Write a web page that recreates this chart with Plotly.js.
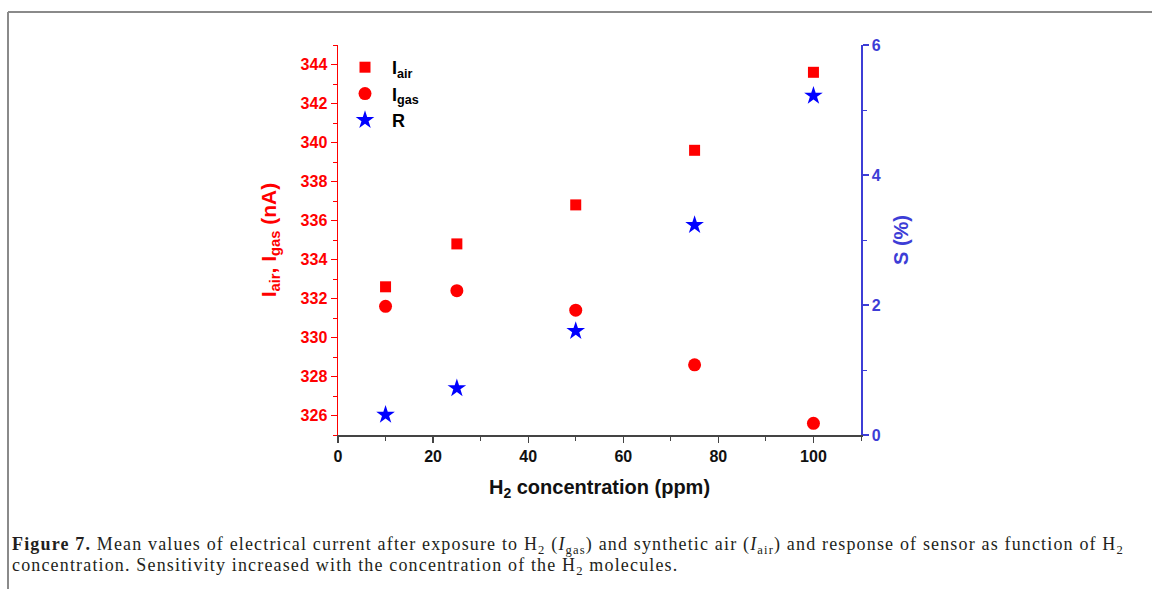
<!DOCTYPE html>
<html>
<head>
<meta charset="utf-8">
<script src="https://cdn.plot.ly/plotly-3.0.1.min.js"></script>
<style>
  html, body { margin: 0; padding: 0; background: #fff; }
  #chart { width: 1152px; height: 589px; }
</style>
</head>
<body>
<div id="chart"></div>
<script>
// H2 concentration (ppm)
const concentration = [10, 25, 50, 75, 100];
// Mean current in synthetic air and under H2 (nA)
const iAir = [332.6, 334.8, 336.8, 339.6, 343.6];
const iGas = [331.6, 332.4, 331.4, 328.6, 325.6];
// Sensor response S (%)
const response = [0.31, 0.72, 1.6, 3.23, 5.22];

const RED = '#ff0000';
const BLUE = '#0000ff';
const AXBLUE = '#3d3dd6';
const SANS = 'Liberation Sans, Arial, sans-serif';
const SERIF = 'Liberation Serif, Times New Roman, serif';

// plot-area pixel box used to place the frame and caption in paper units
const W = 1152, H = 589;
const M = { l: 338, r: 291, t: 45, b: 154 };
const pw = W - M.l - M.r, ph = H - M.t - M.b;
const px = v => (v - M.l) / pw;
const py = v => (H - M.b - v) / ph;

const traces = [
  {
    x: concentration, y: iAir, type: 'scatter', mode: 'markers',
    name: 'I<sub>air</sub>', legendgroup: 'a',
    marker: { symbol: 'square', color: RED, size: 11 },
    yaxis: 'y'
  },
  {
    x: concentration, y: iGas, type: 'scatter', mode: 'markers',
    name: 'I<sub>gas</sub>', legendgroup: 'b',
    marker: { symbol: 'circle', color: RED, size: 13 },
    yaxis: 'y'
  },
  {
    x: concentration, y: response, type: 'scatter', mode: 'markers',
    name: 'R', legendgroup: 'c',
    marker: { symbol: 'star', color: BLUE, size: 14 },
    yaxis: 'y2'
  }
];

const caption1 = '<b>Figure 7.</b> Mean values of electrical current after exposure to H<sub>2</sub> (<i>I</i><sub>gas</sub>) and synthetic air (<i>I</i><sub>air</sub>) and response of sensor as function of H<sub>2</sub>';
const caption2 = 'concentration. Sensitivity increased with the concentration of the H<sub>2</sub> molecules.';

const layout = {
  width: W, height: H,
  margin: M,
  paper_bgcolor: '#ffffff',
  plot_bgcolor: '#ffffff',
  showlegend: true,
  legend: {
    x: px(338), y: py(49), xanchor: 'left', yanchor: 'top',
    bgcolor: 'rgba(0,0,0,0)',
    font: { family: SANS, size: 18, color: '#000', weight: 'bold' },
    tracegroupgap: 0,
    itemwidth: 44
  },
  xaxis: {
    range: [0, 110],
    tick0: 0, dtick: 20,
    showgrid: false, zeroline: false,
    showline: true, linecolor: '#444', linewidth: 1.5,
    ticks: 'outside', ticklen: 6, tickwidth: 1.2, tickcolor: '#444',
    minor: { dtick: 10, ticks: 'outside', ticklen: 4, tickcolor: '#444', tickwidth: 1 },
    tickfont: { family: SANS, size: 16, color: '#111', weight: 'bold' },
    title: {
      text: 'H<sub>2</sub> concentration (ppm)',
      font: { family: SANS, size: 20, color: '#111', weight: 'bold' },
      standoff: 16
    }
  },
  yaxis: {
    range: [325, 345],
    tick0: 326, dtick: 2,
    showgrid: false, zeroline: false,
    showline: true, linecolor: RED, linewidth: 1.5,
    ticks: 'outside', ticklen: 6, tickwidth: 1.2, tickcolor: RED,
    minor: { dtick: 1, ticks: 'outside', ticklen: 4, tickcolor: RED, tickwidth: 1 },
    tickfont: { family: SANS, size: 16, color: RED, weight: 'bold' },
    title: {
      text: 'I<sub>air</sub>, I<sub>gas</sub> (nA)',
      font: { family: SANS, size: 21, color: RED, weight: 'bold' },
      standoff: 18
    }
  },
  yaxis2: {
    range: [0, 6],
    tick0: 0, dtick: 2,
    overlaying: 'y', side: 'right', anchor: 'x',
    showgrid: false, zeroline: false,
    showline: true, linecolor: AXBLUE, linewidth: 1.5,
    ticks: 'outside', ticklen: 6, tickwidth: 1.2, tickcolor: AXBLUE,
    minor: { dtick: 1, ticks: 'outside', ticklen: 4, tickcolor: AXBLUE, tickwidth: 1 },
    tickfont: { family: SANS, size: 16, color: AXBLUE, weight: 'bold' },
    title: {
      text: 'S (%)',
      font: { family: SANS, size: 20, color: AXBLUE, weight: 'bold' },
      standoff: 14
    }
  },
  shapes: [
    // page frame: top rule and left rule
    { type: 'line', xref: 'paper', yref: 'paper',
      x0: px(8), x1: px(W + 2), y0: py(12), y1: py(12),
      line: { color: '#8a8a8a', width: 2 } },
    { type: 'line', xref: 'paper', yref: 'paper',
      x0: px(8), x1: px(8), y0: py(12), y1: py(H + 2),
      line: { color: '#8a8a8a', width: 2 } }
  ],
  annotations: [
    { xref: 'paper', yref: 'paper', x: px(10), y: py(545),
      xanchor: 'left', yanchor: 'middle', showarrow: false, align: 'left',
      text: caption1,
      font: { family: SERIF, size: 18, color: '#231f20' } },
    { xref: 'paper', yref: 'paper', x: px(10), y: py(566),
      xanchor: 'left', yanchor: 'middle', showarrow: false, align: 'left',
      text: caption2,
      font: { family: SERIF, size: 18, color: '#231f20' } }
  ]
};

// spread the caption lines so the first one runs to the right margin
function spreadCaption(gd) {
  const texts = gd.querySelectorAll('.annotation-text');
  if (!texts.length) return;
  const first = texts[0];
  const width = first.getBBox().width;
  const chars = first.textContent.length;
  const target = 1132 - 11;
  const ls = Math.max(0, (target - width) / chars);
  texts.forEach(t => { t.style.letterSpacing = ls.toFixed(2) + 'px'; });
}

Plotly.newPlot('chart', traces, layout, { displayModeBar: false, staticPlot: true })
  .then(gd => spreadCaption(gd));
</script>
</body>
</html>
